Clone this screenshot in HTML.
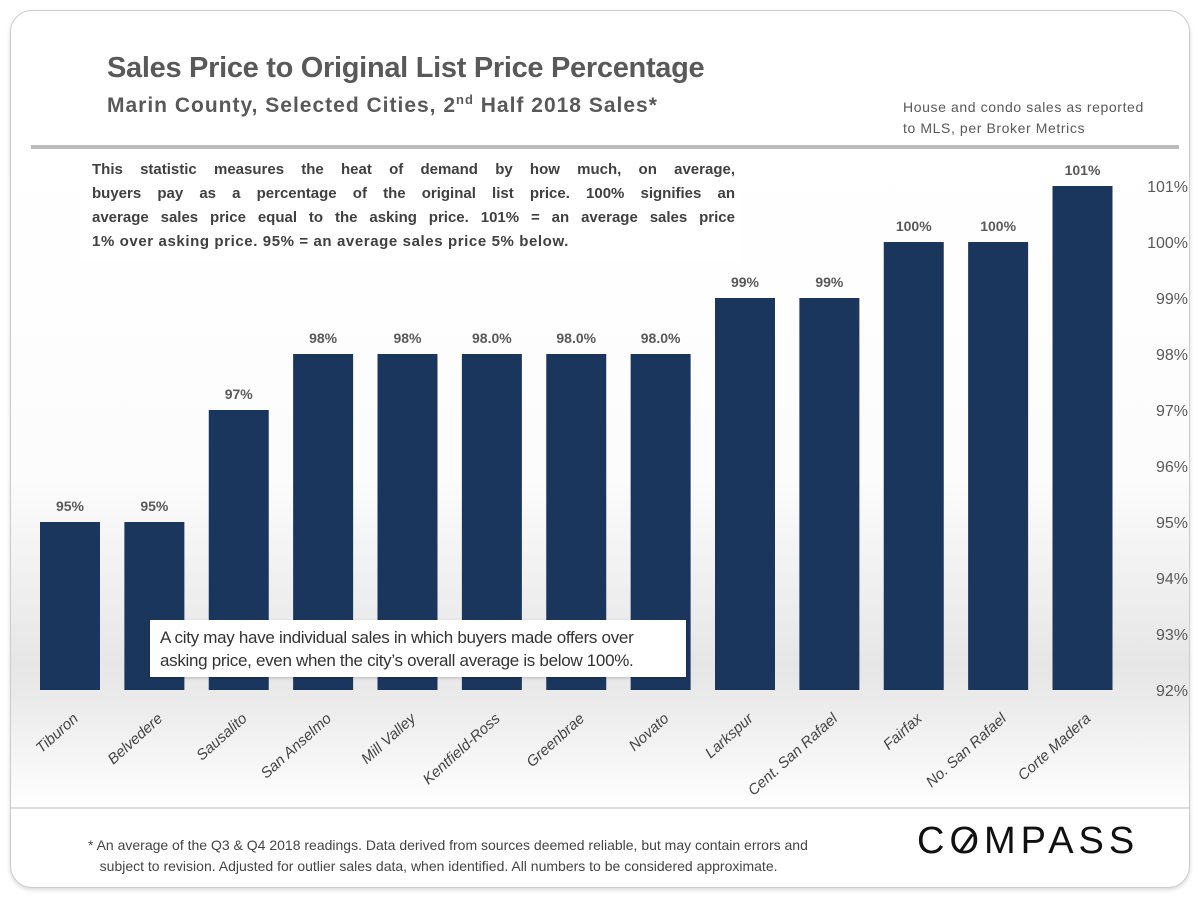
<!DOCTYPE html>
<html><head><meta charset="utf-8"><style>
body{margin:0;width:1200px;height:900px;background:#fff;font-family:"Liberation Sans",sans-serif;overflow:hidden}
#card{position:absolute;left:10px;top:10px;width:1178px;height:876px;border:1px solid #ccc;border-radius:22px;box-shadow:0 2px 4px rgba(0,0,0,.15);overflow:hidden;background:#fff}
.t{position:absolute;white-space:nowrap;color:#555}
.jl{text-align:justify;text-align-last:justify;height:24px;white-space:nowrap}
</style></head><body>
<div id="card">
<div style="position:absolute;left:0;top:138px;width:1178px;height:660px;background:linear-gradient(#fff 0%,#fcfcfc 50%,#e6e6e6 78%,#ebebeb 84%,#fff 100%)"></div>
<div style="position:absolute;left:20px;top:134px;width:1148px;height:4px;background:#bbb"></div>
<div style="position:absolute;left:0;top:796px;width:1178px;height:2px;background:#ddd"></div>
</div>
<div class="t" style="left:107px;top:52px;font-size:29px;font-weight:bold;color:#595959;letter-spacing:-0.3px">Sales Price to Original List Price Percentage</div>
<div class="t" style="left:107px;top:92px;font-size:21px;font-weight:bold;color:#595959;letter-spacing:1.0px">Marin County, Selected Cities, 2<sup style="font-size:13px">nd</sup> Half 2018 Sales*</div>
<div class="t" style="left:903px;top:97px;font-size:14px;letter-spacing:0.6px;line-height:21px;color:#595959">House and condo sales as reported<br>to MLS, per Broker Metrics</div>
<div style="position:absolute;left:80px;top:150px;width:660px;height:112px;background:#fff">
<div style="position:absolute;left:12px;top:8px;width:643px;font-size:15px;font-weight:bold;line-height:24px;color:#404040">
<div class="jl">This statistic measures the heat of demand by how much, on average,</div>
<div class="jl">buyers pay as a percentage of the original list price. 100% signifies an</div>
<div class="jl">average sales price equal to the asking price. 101% = an average sales price</div>
<div style="height:24px;white-space:nowrap;letter-spacing:0.6px">1% over asking price. 95% = an average sales price 5% below.</div>
</div></div>
<svg id="chart" width="1200" height="900" style="position:absolute;left:0;top:0"></svg>
<div style="position:absolute;left:150px;top:620px;width:536px;height:57px;background:#fff;box-shadow:0 1px 3px rgba(0,0,0,.2)">
<div style="position:absolute;left:10px;top:6px;font-size:17px;letter-spacing:-0.3px;line-height:23px;color:#333;white-space:nowrap">A city may have individual sales in which buyers made offers over<br>asking price, even when the city’s overall average is below 100%.</div></div>
<div class="t" style="left:88px;top:835px;font-size:14px;line-height:21px;color:#444">* An average of the Q3 &amp; Q4 2018 readings. Data derived from sources deemed reliable, but may contain errors and<br>&nbsp;&nbsp;&nbsp;subject to revision. Adjusted for outlier sales data, when identified. All numbers to be considered approximate.</div>
<div class="t" style="left:917px;top:820px;font-size:38px;color:#111;letter-spacing:5px">C<span style="position:relative">O<span style="position:absolute;left:6px;top:22px;width:22px;height:3px;background:#111;transform:rotate(-55deg)"></span></span>MPASS</div>
<script>
const cities=["Tiburon","Belvedere","Sausalito","San Anselmo","Mill Valley","Kentfield-Ross","Greenbrae","Novato","Larkspur","Cent. San Rafael","Fairfax","No. San Rafael","Corte Madera"];
const values=[95,95,97,98,98,98,98,98,99,99,100,100,101];
const valueLabels=["95%","95%","97%","98%","98%","98.0%","98.0%","98.0%","99%","99%","100%","100%","101%"];
const yTicks=[92,93,94,95,96,97,98,99,100,101];
const svg=document.getElementById('chart');const NS='http://www.w3.org/2000/svg';
const y=v=>690-(v-92)*56;
const x=i=>70+i*84.375;
function mk(t,a,txt){const e=document.createElementNS(NS,t);for(const k in a)e.setAttribute(k,a[k]);if(txt!==undefined)e.textContent=txt;svg.appendChild(e);return e;}
yTicks.forEach(v=>{const e=mk('text',{x:1188,y:y(v)+6,'text-anchor':'end','font-size':16,fill:'#595959','font-family':'Liberation Sans'},v+'%');

});
values.forEach((v,i)=>{const b=mk('rect',{x:x(i)-30,y:y(v),width:60,height:690-y(v),fill:'#1b365d'});


const l=mk('text',{x:x(i),y:y(v)-11,'text-anchor':'middle','font-size':14,'font-weight':'bold',fill:'#595959','font-family':'Liberation Sans'},valueLabels[i]);


const c=mk('text',{x:x(i)+2,y:712,'text-anchor':'end','font-size':15,'font-style':'italic',fill:'#444','font-family':'Liberation Sans',transform:`rotate(-42 ${x(i)+2} 712)`,dy:'0.7em'},cities[i]);

});
</script>
</body></html>
